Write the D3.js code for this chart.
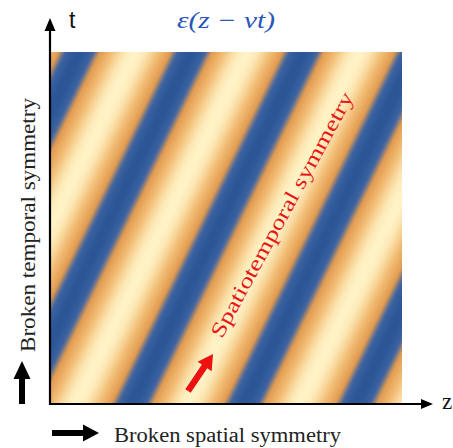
<!DOCTYPE html>
<html>
<head>
<meta charset="utf-8">
<script src="https://cdn.jsdelivr.net/npm/d3@7"></script>
<style>
html,body{margin:0;padding:0;background:#fff;}
svg{display:block;}
</style>
</head>
<body>
<svg id="chart" width="453" height="448"></svg>
<script>
// ---- data ----
const zDomain = [0, 1];          // spatial axis (z)
const tDomain = [0, 1];          // time axis (t)
const wavelength = [0.319];      // spatial period of ε, in z units
const velocity = [0.488];        // phase velocity v (z units per t unit)
const phaseZero = [0.231];       // z - v t value where ε is at its minimum (blue)
const colorValues = [-1, -0.72, -0.4, 0.3, 1];
const colorStops = ["#2b5696", "#3d64a2", "#e29b50", "#f3bf78", "#fff3c6"];
const axisLabels = ["t", "z"];
const titleText = ["ε(z − vt)"];
const sideLabels = ["Broken spatial symmetry", "Broken temporal symmetry", "Spatiotemporal symmetry"];

// ---- layout ----
const svg = d3.select("#chart");
const x = d3.scaleLinear().domain(zDomain).range([51, 402]);
const y = d3.scaleLinear().domain(tDomain).range([404, 52]);
const color = d3.scaleLinear().domain(colorValues).range(colorStops).interpolate(d3.interpolateRgb);

// ε field as a repeating linear gradient along the direction of increasing (z - v t)
const lam = wavelength[0], v = velocity[0];
const dzdx = 1 / (x(1) - x(0));
const dtdy = 1 / (y(1) - y(0));
const a = dzdx / lam;               // d(phase)/dx
const b = (-v * dtdy) / lam;        // d(phase)/dy
const n2 = a * a + b * b;
const x1 = x(phaseZero[0]), y1 = y(0);
const defs = svg.append("defs");
const grad = defs.append("linearGradient")
  .attr("id", "field")
  .attr("gradientUnits", "userSpaceOnUse")
  .attr("spreadMethod", "repeat")
  .attr("x1", x1).attr("y1", y1)
  .attr("x2", x1 + a / n2).attr("y2", y1 + b / n2);
const N = 48;
grad.selectAll("stop").data(d3.range(N + 1)).join("stop")
  .attr("offset", d => d / N)
  .attr("stop-color", d => color(-Math.cos(2 * Math.PI * d / N)));

svg.append("rect")
  .attr("x", x(0)).attr("y", y(1))
  .attr("width", x(1) - x(0)).attr("height", y(0) - y(1))
  .attr("fill", "url(#field)");

// ---- axes with arrows ----
function arrowPoly(tail, tip, shaftW, headW, headL) {
  const dx = tip[0] - tail[0], dy = tip[1] - tail[1];
  const L = Math.hypot(dx, dy), ux = dx / L, uy = dy / L, px = -uy, py = ux;
  const bx = tip[0] - ux * headL, by = tip[1] - uy * headL;
  const p = [
    [tail[0] + px * shaftW / 2, tail[1] + py * shaftW / 2],
    [bx + px * shaftW / 2, by + py * shaftW / 2],
    [bx + px * headW / 2, by + py * headW / 2],
    tip,
    [bx - px * headW / 2, by - py * headW / 2],
    [bx - px * shaftW / 2, by - py * shaftW / 2],
    [tail[0] - px * shaftW / 2, tail[1] - py * shaftW / 2]
  ];
  return p.map(q => q.join(",")).join(" ");
}

// horizontal z axis
svg.append("polygon").attr("points", arrowPoly([49, 404], [433, 404], 2.2, 10, 12)).attr("fill", "#000");
// vertical t axis
svg.append("polygon").attr("points", arrowPoly([50, 405], [50, 18], 2.2, 11, 13)).attr("fill", "#000");

svg.append("text").attr("x", 69).attr("y", 28)
  .attr("font-family", "Liberation Sans, Arial, sans-serif").attr("font-size", 23)
  .attr("fill", "#111").text(axisLabels[0]);
svg.append("text").attr("x", 442).attr("y", 409)
  .attr("font-family", "Liberation Serif, serif").attr("font-size", 23)
  .attr("fill", "#111").text(axisLabels[1]);

// title
svg.append("text").attr("x", 226).attr("y", 28).attr("text-anchor", "middle")
  .attr("font-family", "Liberation Serif, serif").attr("font-style", "italic").attr("font-size", 23)
  .attr("fill", "#2a56b8").attr("textLength", 98).attr("lengthAdjust", "spacingAndGlyphs")
  .text(titleText[0]);

// bottom label and arrow
svg.append("polygon").attr("points", arrowPoly([52, 433], [99, 433], 6, 17, 16)).attr("fill", "#000");
svg.append("text").attr("x", 114).attr("y", 442)
  .attr("font-family", "Liberation Serif, serif").attr("font-size", 20)
  .attr("fill", "#222").attr("textLength", 227).attr("lengthAdjust", "spacingAndGlyphs")
  .text(sideLabels[0]);

// left label and arrow
svg.append("polygon").attr("points", arrowPoly([22, 404], [22, 361], 6, 17, 18)).attr("fill", "#000");
svg.append("text").attr("transform", "translate(35,225) rotate(-90)").attr("text-anchor", "middle")
  .attr("font-family", "Liberation Serif, serif").attr("font-size", 20)
  .attr("fill", "#222").attr("textLength", 254).attr("lengthAdjust", "spacingAndGlyphs")
  .text(sideLabels[1]);

// diagonal red label and arrow
svg.append("polygon").attr("points", arrowPoly([188, 391], [213, 354], 6.5, 17, 15)).attr("fill", "#ee1111");
svg.append("text").attr("transform", "translate(288,218) rotate(-61.4)").attr("text-anchor", "middle")
  .attr("font-family", "Liberation Serif, serif").attr("font-size", 21)
  .attr("fill", "#e81818").attr("textLength", 276).attr("lengthAdjust", "spacingAndGlyphs")
  .text(sideLabels[2]);
</script>
</body>
</html>
